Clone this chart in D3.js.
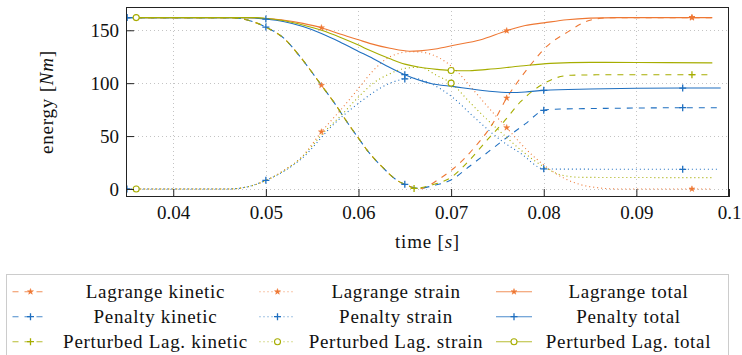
<!DOCTYPE html>
<html>
<head>
<meta charset="utf-8">
<script src="https://cdn.jsdelivr.net/npm/d3@7"></script>
</head>
<body style="margin:0">
<script>
'use strict';

// energy [Nm] over time [s]
var lagrangeKinetic = [[0.036,162],[0.045,162],[0.047,161.5],[0.048,159.7],[0.05,153],[0.052,142],[0.0537,125],[0.056,98],[0.0573,82.5],[0.0591,59],[0.06,48],[0.0609,37],[0.0627,19.6],[0.0641,8.5],[0.0656,2.2],[0.0665,0],[0.0688,10],[0.0703,19.6],[0.0724,38],[0.0745,62],[0.076,86],[0.0775,105],[0.0793,125],[0.08,132],[0.0826,148.5],[0.085,159.5],[0.087,161.8],[0.089,162],[0.096,162],[0.0982,162]];
var lagrangeStrain = [[0.036,0],[0.046,0],[0.048,2],[0.05,8],[0.052,18],[0.0539,30.5],[0.056,54],[0.0584,78],[0.06,95],[0.0616,112],[0.0634,125],[0.0656,129.7],[0.0666,129.5],[0.0688,123.5],[0.0703,114],[0.0724,93.5],[0.0749,68.3],[0.076,58],[0.0775,43],[0.08,22.7],[0.082,11],[0.084,4],[0.086,1],[0.088,0],[0.096,0],[0.0982,0]];
var lagrangeTotal = [[0.036,162],[0.048,162],[0.05,161],[0.052,159.5],[0.054,156.5],[0.056,152.4],[0.058,146.5],[0.06,141],[0.0612,137.6],[0.0634,133],[0.0655,130.2],[0.0666,130.5],[0.0685,132.5],[0.0703,135.8],[0.0731,140.8],[0.076,149.6],[0.078,154.5],[0.08,157],[0.0825,160],[0.085,161.5],[0.088,162],[0.096,162],[0.0982,162]];

var penaltyKinetic = [[0.035,162],[0.045,162],[0.047,161.5],[0.048,159.7],[0.05,153],[0.052,142],[0.0537,125],[0.056,98],[0.0573,82.5],[0.0591,59],[0.06,48],[0.0609,37],[0.0627,19.6],[0.0641,8.5],[0.065,4.4],[0.0665,0.5],[0.068,3],[0.0701,9],[0.072,21.5],[0.074,35],[0.076,48.5],[0.078,61.5],[0.08,74.3],[0.081,75.3],[0.085,76],[0.09,76.5],[0.095,76.8],[0.0991,76.8]];
var penaltyStrain = [[0.035,0],[0.046,0],[0.048,2],[0.05,8.2],[0.052,17],[0.0539,29],[0.0573,61],[0.06,81],[0.0634,100],[0.065,104],[0.066,104.5],[0.0677,100],[0.0701,87],[0.0724,68.5],[0.0753,46.5],[0.0775,33.7],[0.08,19],[0.081,18.8],[0.095,18.6],[0.0988,18.6]];
var penaltyTotal = [[0.035,162],[0.048,162],[0.05,160.6],[0.052,158],[0.054,153.5],[0.056,147],[0.058,139],[0.06,130],[0.0612,125],[0.063,116.5],[0.065,108],[0.0677,100],[0.0703,96.7],[0.0739,92.6],[0.0764,91.2],[0.078,91.7],[0.08,93.2],[0.085,94.5],[0.09,95.2],[0.095,95.4],[0.0991,95.4]];

var perturbedKinetic = [[0.036,162],[0.045,162],[0.047,161.5],[0.048,159.7],[0.05,153],[0.052,142],[0.0537,125],[0.056,98],[0.0573,82.5],[0.0591,59],[0.06,48],[0.0609,37],[0.0627,19.6],[0.0641,8.5],[0.0656,2.2],[0.066,0.5],[0.068,4],[0.0701,11.6],[0.072,27.4],[0.0739,46.3],[0.0757,63.6],[0.0775,82.5],[0.08,99.5],[0.0815,105.5],[0.083,107.5],[0.088,108],[0.096,108],[0.0982,108]];
var perturbedStrain = [[0.036,0],[0.046,0],[0.048,2],[0.05,8],[0.052,17.5],[0.0539,30],[0.0562,53],[0.0584,72],[0.06,87],[0.0616,100],[0.0634,109],[0.065,114],[0.0666,115],[0.0685,107],[0.07,100],[0.072,82],[0.0739,65.5],[0.0757,51],[0.0775,37],[0.0802,20],[0.082,13],[0.084,11],[0.09,10.8],[0.0982,10.7]];
var perturbedTotal = [[0.036,162],[0.049,162],[0.05,161.2],[0.052,159],[0.054,155],[0.056,150],[0.058,143.5],[0.06,136],[0.0612,131],[0.0634,123],[0.065,118],[0.0666,115],[0.0685,113],[0.07,112],[0.072,111.8],[0.0739,113],[0.0775,116.2],[0.0807,118.7],[0.085,119.7],[0.09,119.5],[0.0982,119.2]];

// times where the marks sit
var lagrangeMarks = [0.036, 0.056, 0.076, 0.096];
var penaltyMarks = [0.035, 0.05, 0.065, 0.08, 0.095];
var perturbedKineticMarks = [0.036, 0.066, 0.096];
var perturbedMarks = [0.036, 0.07];

var xTicks = [0.04, 0.05, 0.06, 0.07, 0.08, 0.09, 0.1];
var yTicks = [0, 50, 100, 150];

var orange = '#ee7733', blue = '#1f6fc0', olive = '#a6ad00';
var serif = "'Liberation Serif'";

var series = [
  {name: 'Lagrange kinetic', data: lagrangeKinetic, color: orange, dash: '6,6', mark: 'star', marks: lagrangeMarks}
, {name: 'Lagrange strain', data: lagrangeStrain, color: orange, dash: '1,3', mark: 'star', marks: lagrangeMarks}
, {name: 'Lagrange total', data: lagrangeTotal, color: orange, dash: null, mark: 'star', marks: lagrangeMarks}
, {name: 'Penalty kinetic', data: penaltyKinetic, color: blue, dash: '6,6', mark: 'plus', marks: penaltyMarks}
, {name: 'Penalty strain', data: penaltyStrain, color: blue, dash: '1,3', mark: 'plus', marks: penaltyMarks}
, {name: 'Penalty total', data: penaltyTotal, color: blue, dash: null, mark: 'plus', marks: penaltyMarks}
, {name: 'Perturbed Lag. kinetic', data: perturbedKinetic, color: olive, dash: '6,6', mark: 'plus', marks: perturbedKineticMarks}
, {name: 'Perturbed Lag. strain', data: perturbedStrain, color: olive, dash: '1,3', mark: 'circle', marks: perturbedMarks}
, {name: 'Perturbed Lag. total', data: perturbedTotal, color: olive, dash: null, mark: 'circle', marks: perturbedMarks}
];

var width = 742, height = 355;
var plot = {left: 126, right: 729, top: 7, bottom: 197};

var svg = d3.select('body').append('svg')
  .attr('width', width)
  .attr('height', height);

var x = d3.scaleLinear().domain([0.0349, 0.1]).range([plot.left, plot.right]);
var y = d3.scaleLinear().domain([-7.6, 172]).range([plot.bottom, plot.top]);

function serifText(sel, size) {
  return sel.style('font-family', serif).style('font-size', size + 'px').attr('fill', '#111');
}

// grid
var grid = svg.append('g')
  .attr('stroke', '#c4c4c4')
  .attr('stroke-width', 1)
  .attr('stroke-dasharray', '1,3');
grid.selectAll('.gx').data(xTicks.filter(function(d) { return d < 0.1; })).enter().append('line')
  .attr('x1', function(d) { return Math.round(x(d)) + 0.5; })
  .attr('x2', function(d) { return Math.round(x(d)) + 0.5; })
  .attr('y1', plot.top).attr('y2', plot.bottom);
grid.selectAll('.gy').data(yTicks).enter().append('line')
  .attr('y1', function(d) { return Math.round(y(d)) + 0.5; })
  .attr('y2', function(d) { return Math.round(y(d)) + 0.5; })
  .attr('x1', plot.left).attr('x2', plot.right);

svg.append('clipPath').attr('id', 'clip')
  .append('rect')
  .attr('x', plot.left).attr('y', plot.top)
  .attr('width', plot.right - plot.left).attr('height', plot.bottom - plot.top);

var line = d3.line()
  .x(function(d) { return x(d[0]); })
  .y(function(d) { return y(d[1]); })
  .curve(d3.curveMonotoneX);

function drawMark(g, type, color) {
  if (type === 'plus') {
    g.append('path').attr('d', 'M-3.5,0H3.5M0,-3.5V3.5')
      .attr('stroke', color).attr('stroke-width', 1.3).attr('fill', 'none');
  } else if (type === 'circle') {
    g.append('circle').attr('r', 3)
      .attr('stroke', color).attr('stroke-width', 1.1).attr('fill', '#fff');
  } else {
    g.append('path').attr('d', d3.symbol().type(d3.symbolStar).size(11)())
      .attr('fill', color).attr('stroke', color).attr('stroke-width', 0.5);
  }
}

var curves = svg.append('g').attr('clip-path', 'url(#clip)');
series.forEach(function(s) {
  curves.append('path')
    .datum(s.data)
    .attr('d', line)
    .attr('fill', 'none')
    .attr('stroke', s.color)
    .attr('stroke-width', 1.1)
    .attr('stroke-dasharray', s.dash);
});
series.forEach(function(s) {
  var pts = s.data.filter(function(d) { return s.marks.indexOf(d[0]) >= 0; });
  pts.forEach(function(d) {
    var g = curves.append('g').attr('transform', 'translate(' + x(d[0]) + ',' + y(d[1]) + ')');
    drawMark(g, s.mark, s.color);
  });
});

// frame and ticks
svg.append('rect')
  .attr('x', plot.left + 0.5).attr('y', plot.top + 0.5)
  .attr('width', plot.right - plot.left - 1).attr('height', plot.bottom - plot.top - 1)
  .attr('fill', 'none').attr('stroke', '#222').attr('stroke-width', 1);

var axisX = d3.axisBottom(x).tickValues(xTicks).tickSize(-8).tickPadding(9)
  .tickFormat(function(d) { return d === 0.1 ? '0.1' : d3.format('.2f')(d); });
var gx = svg.append('g').attr('transform', 'translate(0,' + plot.bottom + ')').call(axisX)
  .attr('font-family', null).attr('font-size', null);
gx.select('.domain').remove();
gx.selectAll('line').attr('stroke', '#222');
serifText(gx.selectAll('text'), 19);

var axisY = d3.axisLeft(y).tickValues(yTicks).tickSize(-8).tickPadding(7);
var gy = svg.append('g').attr('transform', 'translate(' + plot.left + ',0)').call(axisY)
  .attr('font-family', null).attr('font-size', null);
gy.select('.domain').remove();
gy.selectAll('line').attr('stroke', '#222');
serifText(gy.selectAll('text'), 19);

// axis labels
var xl = serifText(svg.append('text'), 19)
  .attr('x', (plot.left + plot.right) / 2).attr('y', 248)
  .attr('text-anchor', 'middle').style('letter-spacing', '0.8px');
xl.append('tspan').text('time [');
xl.append('tspan').style('font-style', 'italic').text('s');
xl.append('tspan').text(']');

var yl = serifText(svg.append('text'), 19)
  .attr('transform', 'translate(53,' + ((plot.top + plot.bottom) / 2) + ') rotate(-90)')
  .attr('text-anchor', 'middle').style('letter-spacing', '0.8px');
yl.append('tspan').text('energy [');
yl.append('tspan').style('font-style', 'italic').text('Nm');
yl.append('tspan').text(']');

// legend
var legend = svg.append('g');
legend.append('rect')
  .attr('x', 6.5).attr('y', 274.5).attr('width', 722).attr('height', 90)
  .attr('fill', '#fff').attr('stroke', '#cccccc').attr('stroke-width', 1);

var colSym = [30.5, 277.5, 514];
var colText = [155.5, 396, 628.5];
var rowY = [291.7, 316.7, 341.7];

series.forEach(function(s, i) {
  var c = i % 3, r = Math.floor(i / 3);
  var cy = rowY[r];
  legend.append('line')
    .attr('x1', colSym[c] - 18).attr('x2', colSym[c] + 18)
    .attr('y1', cy).attr('y2', cy)
    .attr('stroke', s.color).attr('stroke-width', 1.1)
    .attr('stroke-dasharray', s.dash)
    .attr('opacity', 0.8);
  var g = legend.append('g').attr('transform', 'translate(' + colSym[c] + ',' + cy + ')');
  drawMark(g, s.mark, s.color);
  serifText(legend.append('text'), 19)
    .attr('x', colText[c]).attr('y', cy + 6)
    .attr('text-anchor', 'middle')
    .style('letter-spacing', '0.7px')
    .text(s.name);
});
</script>
</body>
</html>
